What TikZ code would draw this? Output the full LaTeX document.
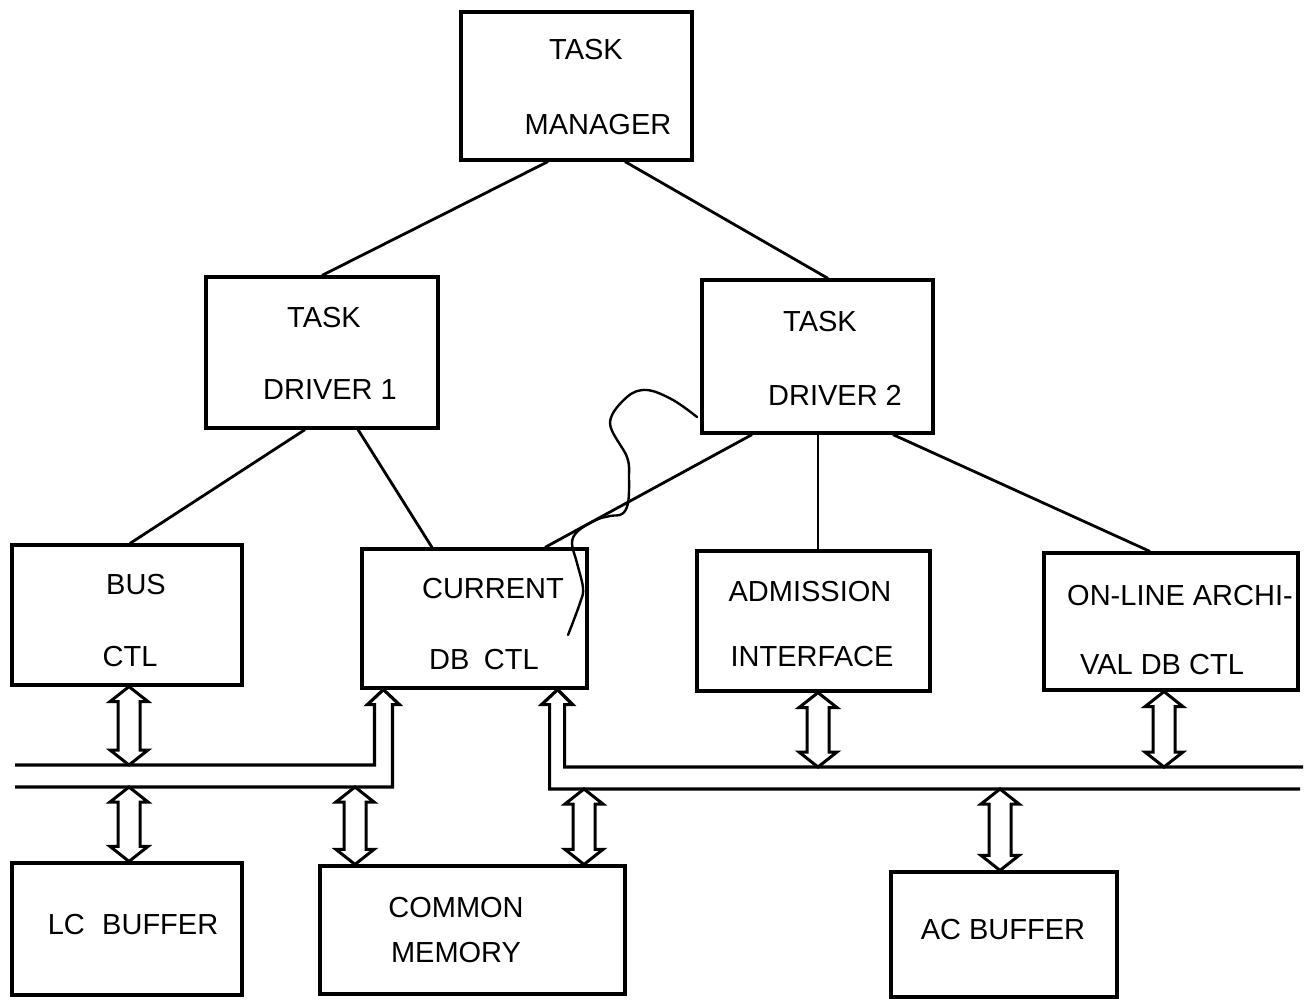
\documentclass[tikz,border=0pt]{standalone}
\usepackage{fontspec}
\setmainfont{Liberation Sans}
\usetikzlibrary{calc}

% hollow double-headed block arrow: #1 gives x, #2 top end, #3 bottom end
\newcommand\bidir[3]{%
  \draw[dbl] let \p1=(#1), \p2=(#2), \p3=(#3) in
    (\x1,\y2) -- (\x1+19pt,\y2-15pt) -- (\x1+11pt,\y2-15pt) -- (\x1+11pt,\y3+15pt)
    -- (\x1+19pt,\y3+15pt) -- (\x1,\y3) -- (\x1-19pt,\y3+15pt) -- (\x1-11pt,\y3+15pt)
    -- (\x1-11pt,\y2-15pt) -- (\x1-19pt,\y2-15pt) -- cycle;}

\tikzset{
  box/.style={draw, line width=3.2pt, rectangle, inner sep=0pt},
  lbl/.style={inner sep=0pt, font=\fontsize{29pt}{34pt}\selectfont},
  link/.style={line width=2.8pt},
  busline/.style={line width=3.2pt, line join=miter},
  dbl/.style={line width=3pt, line join=miter},
  scrawl/.style={line width=2.4pt, line cap=round, line join=round}
}

\begin{document}
\begin{tikzpicture}[x=1pt,y=-1pt]
\useasboundingbox (0,0) rectangle (1307,999);

% boxes
\node[box, minimum width=231pt, minimum height=148pt] (tm) at (576.5,86) {};
\node[box, minimum width=232pt, minimum height=151pt] (td1) at (322,352.5) {};
\node[box, minimum width=231pt, minimum height=153pt] (td2) at (817.5,356.5) {};
\node[box, minimum width=230pt, minimum height=140pt] (busctl) at (127,615) {};
\node[box, minimum width=225pt, minimum height=139pt] (cur) at (474.5,618.5) {};
\node[box, minimum width=233pt, minimum height=140pt] (adm) at (813.5,621) {};
\node[box, minimum width=254pt, minimum height=137pt] (olarch) at (1171,621.5) {};
\node[box, minimum width=230pt, minimum height=132pt] (lcbuf) at (127,929) {};
\node[box, minimum width=305pt, minimum height=128pt] (cmem) at (472.5,930) {};
\node[box, minimum width=226pt, minimum height=125pt] (acbuf) at (1004,934.5) {};

% labels
\node[lbl] (tmA) at (586,50) {TASK};
\node[lbl] (tmB) at (598,125) {MANAGER};
\node[lbl] (td1A) at (324,318) {TASK};
\node[lbl] (td1B) at (330,390) {DRIVER 1};
\node[lbl] (td2A) at (820,322) {TASK};
\node[lbl] (td2B) at (835,395) {DRIVER 2};
\node[lbl] (busA) at (136,585) {BUS};
\node[lbl] (busB) at (130,657) {CTL};
\node[lbl] (curA) at (493,589) {CURRENT};
\node[lbl] (curB) at (484,660) {DB\hspace{0.5em}CTL};
\node[lbl] (admA) at (810,592) {ADMISSION};
\node[lbl] (admB) at (812,657) {INTERFACE};
\node[lbl] (olA) at (1180,596) {ON-LINE ARCHI-};
\node[lbl] (olB) at (1162,665) {VAL DB CTL};
\node[lbl] (lcA) at (133,925) {LC\hspace{0.6em}BUFFER};
\node[lbl] (cmA) at (456,908) {COMMON};
\node[lbl] (cmB) at (456,953) {MEMORY};
\node[lbl] (acA) at (1003,930) {AC BUFFER};

% hierarchy links
\draw[link] ([xshift=-28.5pt]tm.south) -- (td1.north);
\draw[link] ([xshift=48.5pt]tm.south) -- ([xshift=10.5pt]td2.north);
\draw[link] ([xshift=-17pt]td1.south) -- ([xshift=3pt]busctl.north);
\draw[link] ([xshift=36pt]td1.south) -- ([xshift=-42.5pt]cur.north);
\draw[link] ([xshift=-65.5pt]td2.south) -- ([xshift=70.5pt]cur.north);
\draw[link] ([xshift=0.5pt]td2.south) -- ([xshift=4.5pt]adm.north);
\draw[link] ([xshift=75.5pt]td2.south) -- ([xshift=-21pt]olarch.north);

% bus ends and arrow tips into the current DB controller
\coordinate (lbusU) at (15,765);
\coordinate (lbusL) at (15,787);
\coordinate (rbusU) at (1303,767);
\coordinate (rbusL) at (1300,789);
\coordinate (ltip) at ($(cur.south west)+(23,0)$);
\coordinate (rtip) at ($(cur.south east)+(-31,0)$);

% left bus pair, joined into one channel up to the current DB controller
\draw[busline] (lbusU) -| ($(ltip)+(-9,15)$) -- ++(-7,0) -- (ltip)
  -- ++(16,15) -- ++(-7,0) |- (lbusL);
% right bus pair
\draw[busline] (rbusU) -| ($(rtip)+(7,15)$) -- ++(8,0) -- (rtip)
  -- ++(-16,15) -- ++(8,0) |- (rbusL);

% bidirectional taps onto the buses
\bidir{$(busctl.south)+(2,0)$}{busctl.south}{lbusU}
\bidir{$(lcbuf.north)+(2,0)$}{lbusL}{lcbuf.north}
\bidir{$(cmem.north)+(-117.5,0)$}{lbusL}{cmem.north}
\bidir{$(cmem.north)+(111.5,0)$}{rbusL}{cmem.north}
\bidir{$(adm.south)+(4.5,0)$}{adm.south}{rbusU}
\bidir{$(olarch.south)+(-7,0)$}{olarch.south}{rbusU}
\bidir{$(acbuf.north)+(-4,0)$}{rbusL}{acbuf.north}

% hand-drawn loop beside the current DB controller
\draw[scrawl] plot[smooth, tension=0.6] coordinates {
  (697,417) (673,400) (647,390) (627,397) (610,423) (627,457) (629,478)
  (628,503) (622,514) (610,516) (596,520) (578,531) (572,543) (577,563)
  (583,588) (580,603) (568,635)};

\end{tikzpicture}
\end{document}
